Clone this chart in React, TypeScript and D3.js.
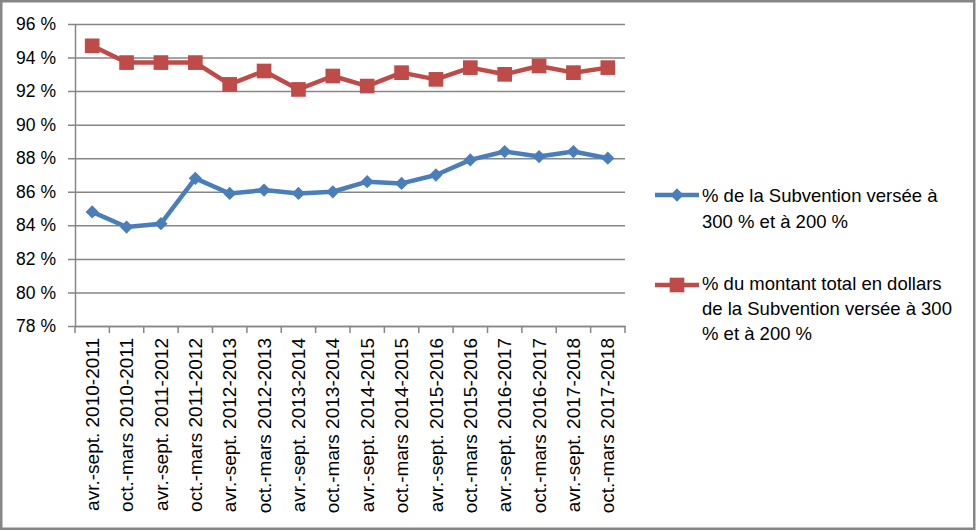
import { useEffect, useRef } from "react";
import { scaleBand, scaleLinear, line as d3Line, select, axisLeft, axisBottom, symbol, symbolSquare } from "d3";

const categories = [
  "avr.-sept. 2010-2011",
  "oct.-mars 2010-2011",
  "avr.-sept. 2011-2012",
  "oct.-mars 2011-2012",
  "avr.-sept. 2012-2013",
  "oct.-mars 2012-2013",
  "avr.-sept. 2013-2014",
  "oct.-mars 2013-2014",
  "avr.-sept. 2014-2015",
  "oct.-mars 2014-2015",
  "avr.-sept. 2015-2016",
  "oct.-mars 2015-2016",
  "avr.-sept. 2016-2017",
  "oct.-mars 2016-2017",
  "avr.-sept. 2017-2018",
  "oct.-mars 2017-2018",
];

const pctCount = [84.8, 83.9, 84.1, 86.8, 85.9, 86.1, 85.9, 86.0, 86.6, 86.5, 87.0, 87.9, 88.4, 88.1, 88.4, 88.0];
const pctDollars = [94.7, 93.7, 93.7, 93.7, 92.4, 93.2, 92.1, 92.9, 92.3, 93.1, 92.7, 93.4, 93.0, 93.5, 93.1, 93.4];

const yTicks = [78, 80, 82, 84, 86, 88, 90, 92, 94, 96];

const legendCount = ["% de la Subvention versée à", "300 % et à 200 %"];
const legendDollars = ["% du montant total en dollars", "de la Subvention versée à 300", "% et à 200 %"];

const WIDTH = 977;
const HEIGHT = 530;
const PLOT = { left: 75, right: 625, top: 24, bottom: 326 };
const BLUE = "#4A7EBB";
const RED = "#BE4B48";
const GRID = "#868686";
const FONT = "'Liberation Sans', Arial, sans-serif";

export default function App() {
  const svgRef = useRef<SVGSVGElement>(null);

  const x = scaleBand<string>().domain(categories).range([PLOT.left, PLOT.right]).paddingInner(0).paddingOuter(0);
  const y = scaleLinear().domain([78, 96]).range([PLOT.bottom, PLOT.top]);
  const cx = (i: number) => (x(categories[i]) ?? 0) + x.bandwidth() / 2;

  const lineGen = d3Line<number>()
    .x((_, i) => cx(i))
    .y((d) => y(d));

  // diamond = square turned 45 degrees
  const diamond = symbol().type(symbolSquare).size(88)() ?? "";
  const square = symbol().type(symbolSquare).size(215)() ?? "";

  useEffect(() => {
    document.body.style.margin = "0";
    if (!svgRef.current) return;
    const svg = select(svgRef.current);

    // Y axis with gridlines
    const ya = svg.select<SVGGElement>(".y-axis")
      .attr("transform", `translate(${PLOT.left},0)`)
      .call(
        axisLeft(y)
          .tickValues(yTicks)
          .tickSizeInner(-(PLOT.right - PLOT.left))
          .tickSizeOuter(0)
          .tickFormat((d) => `${d} %`)
      );
    ya.select(".domain").attr("stroke", GRID).attr("stroke-width", 1.5);
    ya.selectAll(".tick line").attr("stroke", GRID).attr("stroke-width", 1.5).attr("x1", -7);
    ya.selectAll(".tick text")
      .attr("fill", "#000")
      .attr("font-family", FONT)
      .attr("font-size", 17.5)
      .attr("x", -19);

    // X axis: ticks at category boundaries
    const xa = svg.select<SVGGElement>(".x-axis")
      .attr("transform", `translate(0,${PLOT.bottom})`)
      .call(axisBottom(x).tickSize(0).tickSizeOuter(0));
    xa.select(".domain").attr("stroke", GRID).attr("stroke-width", 1.5);
    xa.selectAll(".tick line").remove();
    xa.selectAll(".tick text")
      .attr("fill", "#000")
      .attr("font-family", FONT)
      .attr("font-size", 19)
      .attr("text-anchor", "end")
      .attr("transform", "rotate(-90)")
      .attr("x", -12)
      .attr("y", 0)
      .attr("dy", "0.35em");
    const bounds = categories.map((c) => x(c) ?? 0).concat([PLOT.right]);
    xa.selectAll(".boundary")
      .data(bounds)
      .join("line")
      .attr("class", "boundary")
      .attr("x1", (d) => d)
      .attr("x2", (d) => d)
      .attr("y1", 0)
      .attr("y2", 7)
      .attr("stroke", GRID)
      .attr("stroke-width", 1.5);
  }, []);

  const legendY1 = 195;
  const legendY2 = 285;

  return (
    <svg
      ref={svgRef}
      width={WIDTH}
      height={HEIGHT}
      viewBox={`0 0 ${WIDTH} ${HEIGHT}`}
      style={{ display: "block", background: "#fff" }}
    >
      <rect x={1.25} y={1.25} width={WIDTH - 4} height={HEIGHT - 2.5} fill="#fff" stroke="#868686" strokeWidth={2.5} />
      <g className="y-axis" />
      <g className="x-axis" />

      {/* Series: % of grants */}
      <path d={lineGen(pctCount) ?? ""} fill="none" stroke={BLUE} strokeWidth={4.5} strokeLinejoin="round" />
      {pctCount.map((v, i) => (
        <path key={`b${i}`} d={diamond} transform={`translate(${cx(i)},${y(v)}) rotate(45)`} fill={BLUE} />
      ))}

      {/* Series: % of dollars */}
      <path d={lineGen(pctDollars) ?? ""} fill="none" stroke={RED} strokeWidth={4.5} strokeLinejoin="round" />
      {pctDollars.map((v, i) => (
        <path key={`r${i}`} d={square} transform={`translate(${cx(i)},${y(v)})`} fill={RED} />
      ))}

      {/* Legend */}
      <g fontFamily={FONT} fontSize={18.5} fill="#000">
        <line x1={655} x2={699} y1={legendY1} y2={legendY1} stroke={BLUE} strokeWidth={4.5} />
        <path d={diamond} transform={`translate(677,${legendY1}) rotate(45)`} fill={BLUE} />
        {legendCount.map((t, i) => (
          <text key={t} x={702} y={202 + i * 25.5}>{t}</text>
        ))}
        <line x1={655} x2={699} y1={legendY2} y2={legendY2} stroke={RED} strokeWidth={4.5} />
        <path d={square} transform={`translate(677,${legendY2})`} fill={RED} />
        {legendDollars.map((t, i) => (
          <text key={t} x={702} y={290 + i * 25}>{t}</text>
        ))}
      </g>
    </svg>
  );
}
